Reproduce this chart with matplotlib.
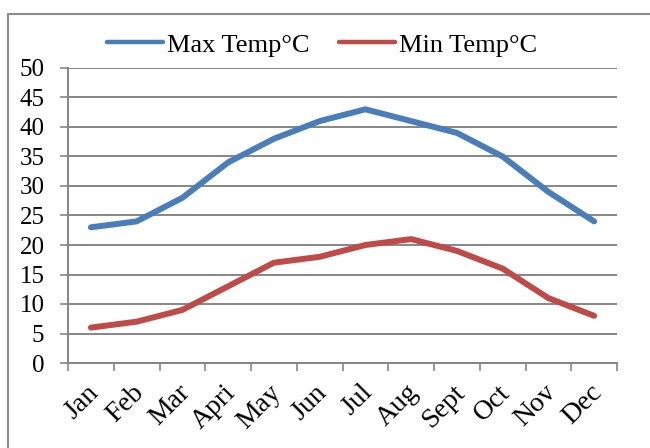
import matplotlib
matplotlib.use("Agg")
import matplotlib.pyplot as plt
from matplotlib.patches import Rectangle
from matplotlib.transforms import ScaledTranslation

months = ["Jan", "Feb", "Mar", "Apri", "May", "Jun", "Jul", "Aug", "Sept", "Oct", "Nov", "Dec"]
max_temp = [23, 24, 28, 34, 38, 41, 43, 41, 39, 35, 29, 24]
min_temp = [6, 7, 9, 13, 17, 18, 20, 21, 19, 16, 11, 8]
y_ticks = list(range(0, 51, 5))

BLUE = "#4a7ebb"
RED = "#be4b48"
GRID = "#868686"

plt.rcParams["font.family"] = ["Liberation Serif", "DejaVu Serif"]

fig = plt.figure(figsize=(6.5, 4.48), dpi=100)
ax = fig.add_axes([68 / 650, 1 - 363 / 448, 549 / 650, 295 / 448])

x = list(range(len(months)))
ax.plot(x, max_temp, color=BLUE, lw=4.3, solid_capstyle="round",
        solid_joinstyle="round", label="Max Temp°C", zorder=3)
ax.plot(x, min_temp, color=RED, lw=4.3, solid_capstyle="round",
        solid_joinstyle="round", label="Min Temp°C", zorder=3)

ax.set_xlim(-0.5, len(months) - 0.5)
ax.set_ylim(0, 50)
ax.set_yticks(y_ticks)
ax.set_yticklabels([str(v) for v in y_ticks], fontsize=18)

# tick marks sit between categories; month names are placed by hand
ax.set_xticks([i - 0.5 for i in range(len(months) + 1)])
ax.set_xticklabels([])
ax.tick_params(axis="x", length=6, color=GRID, width=1.2)
ax.tick_params(axis="y", length=6, color=GRID, width=1.2, pad=11)

lbl_tr = ax.get_xaxis_transform() + ScaledTranslation(-5 / 100, -17 / 100, fig.dpi_scale_trans)
for i, m in enumerate(months):
    ax.text(i, 0, m, transform=lbl_tr, fontsize=20, rotation=45,
            ha="right", va="top", rotation_mode="anchor")

ax.grid(axis="y", color=GRID, lw=1.4)
ax.set_axisbelow(True)
for side in ("top", "right"):
    ax.spines[side].set_visible(False)
for side in ("left", "bottom"):
    ax.spines[side].set_color(GRID)
    ax.spines[side].set_linewidth(1.4)

leg = fig.legend(loc="center", bbox_to_anchor=(322 / 650, 1 - 45 / 448), ncol=2,
                 frameon=False, fontsize=19, handlelength=2.1, handletextpad=0.15,
                 columnspacing=1.15)
for h in leg.get_lines():
    h.set_linewidth(3.2)

# chart frame
fig.patches.append(Rectangle((8 / 650, -0.1), 1.2, 1.1 - 14 / 448 + 0.001,
                             transform=fig.transFigure, fill=False,
                             edgecolor="#8c8c8c", lw=1.5))

fig.savefig("out.png", dpi=100)
